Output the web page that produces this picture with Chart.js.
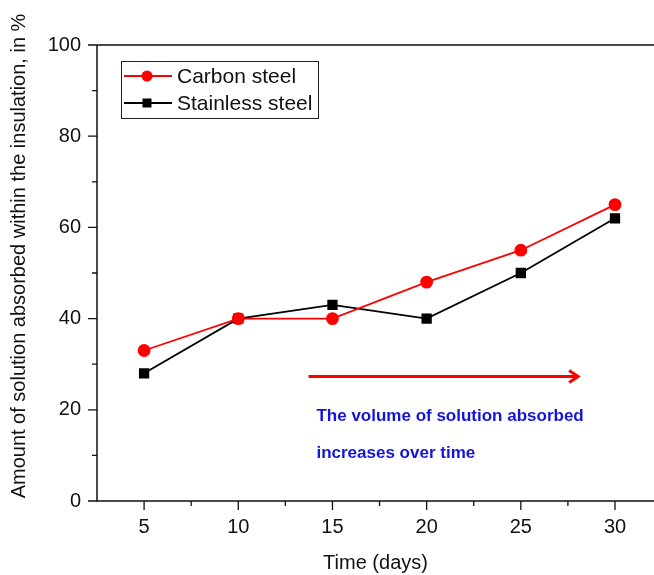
<!DOCTYPE html>
<html>
<head>
<meta charset="utf-8">
<script src="https://cdn.jsdelivr.net/npm/chart.js@4.4.0/dist/chart.umd.min.js"></script>
<style>
  html, body { margin: 0; padding: 0; background: #fff; overflow: hidden; }
  #wrap { width: 654px; height: 575px; }
</style>
</head>
<body>
<div id="wrap"><canvas id="chart"></canvas></div>
<script>
// --- Data ---
const days = [5, 10, 15, 20, 25, 30];
const carbonSteel = [33, 40, 40, 48, 55, 65];
const stainlessSteel = [28, 40, 43, 40, 50, 62];
const xTicks = [5, 10, 15, 20, 25, 30];
const xMinorTicks = [2.5, 7.5, 12.5, 17.5, 22.5, 27.5, 32.5];
const yTicks = [0, 20, 40, 60, 80, 100];
const yMinorTicks = [10, 30, 50, 70, 90];
const noteLines = ['The volume of solution absorbed', 'increases over time'];

const FONT = '"Liberation Sans", Arial, sans-serif';

// axis box + tick marks (Origin style: ticks outside, minor ticks shorter)
const axesPlugin = {
    id: 'axesBox',
    afterDraw(chart) {
        const { ctx, chartArea: a, scales: { x, y } } = chart;
        ctx.save();
        ctx.strokeStyle = '#111';
        ctx.lineWidth = 1.5;
        ctx.beginPath();
        ctx.moveTo(a.left, a.top);
        ctx.lineTo(a.left, a.bottom);
        ctx.lineTo(a.right, a.bottom);
        ctx.moveTo(a.left, a.top);
        ctx.lineTo(a.right + 2, a.top);
        ctx.stroke();

        ctx.lineWidth = 1.3;
        ctx.beginPath();
        yTicks.forEach(v => { const p = y.getPixelForValue(v); ctx.moveTo(a.left, p); ctx.lineTo(a.left - 9, p); });
        yMinorTicks.forEach(v => { const p = y.getPixelForValue(v); ctx.moveTo(a.left, p); ctx.lineTo(a.left - 5, p); });
        xTicks.forEach(v => { const p = x.getPixelForValue(v); ctx.moveTo(p, a.bottom); ctx.lineTo(p, a.bottom + 9); });
        xMinorTicks.forEach(v => {
            const p = x.getPixelForValue(v);
            if (p > a.left + 1 && p < a.right) { ctx.moveTo(p, a.bottom); ctx.lineTo(p, a.bottom + 5); }
        });
        ctx.stroke();

        // y axis title, drawn by hand so it can sit a little above centre
        ctx.fillStyle = '#111';
        ctx.font = '20px ' + FONT;
        ctx.textAlign = 'center';
        ctx.textBaseline = 'middle';
        ctx.translate(19, 256);
        ctx.rotate(-Math.PI / 2);
        ctx.fillText('Amount of solution absorbed within the insulation, in %', 0, 0);
        ctx.restore();
    }
};

// red arrow + blue note
const notePlugin = {
    id: 'note',
    afterDatasetsDraw(chart) {
        const { ctx, scales: { x, y } } = chart;
        const x0 = x.getPixelForValue(13.73), x1 = x.getPixelForValue(28.04);
        const yy = y.getPixelForValue(27.3);
        ctx.save();
        ctx.strokeStyle = '#ff0000';
        ctx.lineWidth = 3;
        ctx.beginPath();
        ctx.moveTo(x0, yy);
        ctx.lineTo(x1, yy);
        ctx.moveTo(x1 - 9, yy - 6);
        ctx.lineTo(x1, yy);
        ctx.lineTo(x1 - 9, yy + 6);
        ctx.stroke();

        ctx.fillStyle = '#1414d8';
        ctx.font = 'bold 17px ' + FONT;
        ctx.textAlign = 'left';
        ctx.textBaseline = 'middle';
        const tx = x.getPixelForValue(14.15);
        ctx.fillText(noteLines[0], tx, y.getPixelForValue(18.5));
        ctx.fillText(noteLines[1], tx, y.getPixelForValue(10.4));
        ctx.restore();
    }
};

// boxed legend inside the plot
const legendPlugin = {
    id: 'boxLegend',
    afterDraw(chart) {
        const { ctx } = chart;
        const left = 121, top = 61, w = 197, h = 57;
        ctx.save();
        ctx.fillStyle = '#fff';
        ctx.fillRect(left, top, w, h);
        ctx.strokeStyle = '#222';
        ctx.lineWidth = 1;
        ctx.strokeRect(left + 0.5, top + 0.5, w, h);
        chart.data.datasets.forEach((ds, i) => {
            const cy = 76 + i * 27;
            ctx.strokeStyle = ds.borderColor;
            ctx.lineWidth = 2;
            ctx.beginPath();
            ctx.moveTo(124, cy);
            ctx.lineTo(172, cy);
            ctx.stroke();
            ctx.fillStyle = ds.pointBackgroundColor;
            if (ds.pointStyle === 'rect') {
                ctx.fillRect(147 - 4.5, cy - 4.5, 9, 9);
            } else {
                ctx.beginPath();
                ctx.arc(147, cy, 5.5, 0, Math.PI * 2);
                ctx.fill();
            }
            ctx.fillStyle = '#111';
            ctx.font = '21px ' + FONT;
            ctx.textAlign = 'left';
            ctx.textBaseline = 'middle';
            ctx.fillText(ds.label, 177, cy + 1);
        });
        ctx.restore();
    }
};

const ctx = document.getElementById('chart').getContext('2d');
new Chart(ctx, {
    type: 'line',
    data: {
        datasets: [
            {
                label: 'Carbon steel',
                data: days.map((d, i) => ({ x: d, y: carbonSteel[i] })),
                borderColor: '#ff0000',
                backgroundColor: '#ff0000',
                pointBackgroundColor: '#ff0000',
                pointBorderColor: '#ff0000',
                pointStyle: 'circle',
                pointRadius: 5.5,
                borderWidth: 1.8,
                tension: 0
            },
            {
                label: 'Stainless steel',
                data: days.map((d, i) => ({ x: d, y: stainlessSteel[i] })),
                borderColor: '#000000',
                backgroundColor: '#000000',
                pointBackgroundColor: '#000000',
                pointBorderColor: '#000000',
                pointStyle: 'rect',
                pointRadius: 6,
                borderWidth: 1.8,
                tension: 0
            }
        ]
    },
    options: {
        responsive: true,
        maintainAspectRatio: false,
        animation: false,
        layout: { autoPadding: false, padding: { top: 45, right: 0, left: 0, bottom: 0 } },
        plugins: { legend: { display: false }, tooltip: { enabled: false } },
        scales: {
            x: {
                type: 'linear',
                min: 2.5,
                max: 32.07,
                grid: { display: false, drawTicks: false },
                border: { display: false },
                afterBuildTicks: s => { s.ticks = xTicks.map(v => ({ value: v })); },
                afterFit: s => { s.height = 74; s.paddingLeft = 0; s.paddingRight = 0; },
                ticks: { color: '#111', font: { family: FONT, size: 20 }, padding: 14, maxRotation: 0 },
                title: { display: true, text: 'Time (days)', color: '#111', font: { family: FONT, size: 20 }, padding: 0 }
            },
            y: {
                min: 0,
                max: 100,
                grid: { display: false, drawTicks: false },
                border: { display: false },
                afterBuildTicks: s => { s.ticks = yTicks.map(v => ({ value: v })); },
                afterFit: s => { s.width = 97; },
                ticks: { color: '#111', font: { family: FONT, size: 20 }, padding: 16 }
            }
        }
    },
    plugins: [axesPlugin, notePlugin, legendPlugin]
});
</script>
</body>
</html>
